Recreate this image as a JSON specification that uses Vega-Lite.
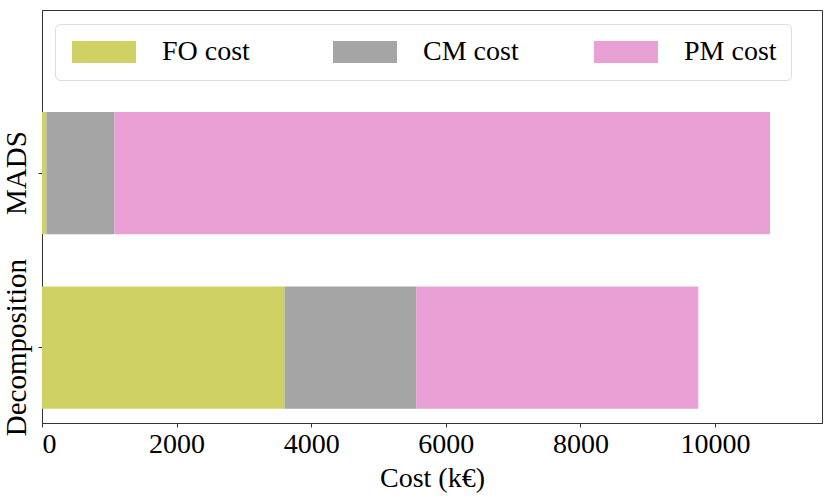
{
  "$schema": "https://vega.github.io/schema/vega-lite/v6.json",
  "autosize": {"type": "none"},
  "width": 780,
  "height": 413,
  "padding": {"left": 42, "top": 10, "right": 8, "bottom": 75},
  "background": "white",
  "data": {
    "values": [
      {"method": "MADS", "cost": "FO cost", "order": 1, "value": 64},
      {"method": "MADS", "cost": "CM cost", "order": 2, "value": 1011},
      {"method": "MADS", "cost": "PM cost", "order": 3, "value": 9742},
      {"method": "Decomposition", "cost": "FO cost", "order": 1, "value": 3603},
      {"method": "Decomposition", "cost": "CM cost", "order": 2, "value": 1957},
      {"method": "Decomposition", "cost": "PM cost", "order": 3, "value": 4192}
    ]
  },
  "mark": {"type": "bar"},
  "encoding": {
    "y": {
      "field": "method",
      "type": "nominal",
      "sort": ["MADS", "Decomposition"],
      "scale": {"paddingInner": 0.3, "paddingOuter": 0.333, "align": 0.877},
      "axis": {
        "title": null,
        "labelAngle": -90,
        "labelAlign": "center",
        "labelBaseline": "bottom",
        "labelPadding": 7,
        "labelFontSize": 29,
        "tickSize": 4
      }
    },
    "x": {
      "field": "value",
      "type": "quantitative",
      "stack": "zero",
      "scale": {"domain": [0, 11590], "nice": false},
      "axis": {
        "title": "Cost (k€)",
        "values": [0, 2000, 4000, 6000, 8000, 10000],
        "format": "d",
        "grid": false,
        "tickSize": 4,
        "labelPadding": 3,
        "titlePadding": 6
      }
    },
    "color": {
      "field": "cost",
      "type": "nominal",
      "scale": {
        "domain": ["FO cost", "CM cost", "PM cost"],
        "range": ["#d0d164", "#a5a5a5", "#e9a0d4"]
      },
      "legend": {
        "title": null,
        "orient": "none",
        "legendX": 13,
        "legendY": 14,
        "direction": "horizontal",
        "columns": 3,
        "gridAlign": "all",
        "columnPadding": 72,
        "symbolType": "M-1,-1H4.818V1H-1Z",
        "symbolSize": 484,
        "symbolStrokeWidth": 0,
        "symbolOpacity": 1,
        "labelOffset": 65,
        "labelLimit": 300,
        "strokeColor": "#dcdcdc",
        "fillColor": "white",
        "cornerRadius": 5,
        "padding": 14
      }
    },
    "order": {"field": "order", "type": "quantitative"}
  },
  "config": {
    "font": "Liberation Serif",
    "view": {"stroke": "#333333", "strokeWidth": 1},
    "axis": {
      "labelFont": "Liberation Serif",
      "labelFontSize": 28,
      "labelColor": "black",
      "titleFont": "Liberation Serif",
      "titleFontSize": 28,
      "titleFontWeight": "normal",
      "titleColor": "black",
      "tickColor": "#333333",
      "domainColor": "#333333"
    },
    "legend": {
      "labelFont": "Liberation Serif",
      "labelFontSize": 28,
      "labelColor": "black"
    }
  }
}
